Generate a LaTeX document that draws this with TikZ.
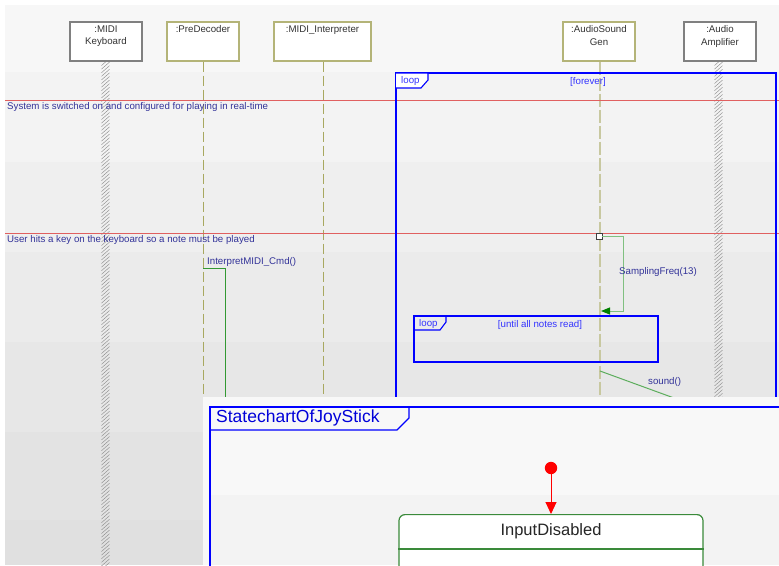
\documentclass[tikz,border=0pt]{standalone}
\usepackage{fontspec}
\setmainfont{Liberation Sans}
\usetikzlibrary{arrows.meta}
\definecolor{hdrbg}{HTML}{F7F7F7}
\definecolor{bandA}{HTML}{F3F3F3}
\definecolor{bandB}{HTML}{EFEFEF}
\definecolor{bandC}{HTML}{EBEBEB}
\definecolor{bandD}{HTML}{E7E7E7}
\definecolor{bandE}{HTML}{E3E3E3}
\definecolor{bandF}{HTML}{E0E0E0}
\definecolor{olive}{HTML}{A8A860}
\definecolor{olivebox}{HTML}{B4B478}
\definecolor{tanline}{HTML}{C8C8A0}
\definecolor{graybox}{HTML}{808080}
\definecolor{hatchgray}{HTML}{8A8A8A}
\definecolor{navytext}{HTML}{333399}
\definecolor{loopblue}{HTML}{0000FF}
\definecolor{looptext}{HTML}{3333FF}
\definecolor{noteline}{HTML}{E06060}
\definecolor{callgreen}{HTML}{339933}
\definecolor{lightgreen}{HTML}{80C080}
\definecolor{darkgreen}{HTML}{008000}
\definecolor{statebord}{HTML}{3A8A3A}
\definecolor{panelA}{HTML}{F8F8F8}
\definecolor{panelB}{HTML}{F3F3F3}
\tikzset{
  objbox/.style={draw, fill=white, line width=1.2pt, minimum width=72, minimum height=39, inner sep=0},
  objtext/.style={anchor=north, align=center, font=\fontsize{9.7}{12.5}\selectfont, text=black!80, inner sep=0},
  lifedash/.style={olive, line width=0.9pt, dash pattern=on 10pt off 4pt},
  genline/.style={tanline, line width=1.8pt, dash pattern=on 13pt off 3pt},
  hatch/.style={hatchgray, line width=0.42pt},
  notesep/.style={noteline, line width=0.8pt},
  notetext/.style={anchor=west, font=\fontsize{9.7}{11}\selectfont, text=navytext, inner sep=0},
  msgtext/.style={anchor=west, font=\fontsize{9.7}{11}\selectfont, text=navytext, inner sep=0},
  frameline/.style={loopblue, line width=1.6pt},
  tabline/.style={loopblue, line width=1.1pt},
  looplabel/.style={font=\fontsize{9.7}{11}\selectfont, text=looptext, inner sep=0},
  callline/.style={callgreen, line width=0.9pt},
  selfmsg/.style={lightgreen, line width=1pt},
  statebox/.style={draw=statebord, fill=white, line width=1.2pt, rounded corners=6pt},
}
% hatched lifeline: x, top, bottom
\newcommand{\hatchlife}[3]{%
  \begin{scope}
    \clip (#1-4.5,#2) rectangle (#1+4.5,#3);
    \foreach \hy in {0,3.6,...,520}{\draw[hatch] (#1-4,#2+\hy+3.5) -- (#1+4,#2+\hy-3.5);}
  \end{scope}}
\begin{document}
\begin{tikzpicture}[x=1pt,y=-1pt]
\useasboundingbox (0,0) rectangle (779,565);
\begin{scope}
\clip (0,0) rectangle (779,565);
% page and shaded background bands
\fill[white] (0,0) rectangle (779,565);
\fill[hdrbg] (5,5) rectangle (779,72);
\fill[bandA] (5,72) rectangle (779,162);
\fill[bandB] (5,162) rectangle (779,252);
\fill[bandC] (5,252) rectangle (779,342);
\fill[bandD] (5,342) rectangle (779,432);
\fill[bandE] (5,432) rectangle (779,520);
\fill[bandF] (5,520) rectangle (779,565);

% lifeline heads
\node[objbox, draw=graybox] (kbd) at (106,41.5) {};
\node[objbox, draw=olivebox] (pre) at (203,41.5) {};
\node[objbox, draw=olivebox, minimum width=97] (interp) at (322.5,41.5) {};
\node[objbox, draw=olivebox] (gen) at (599,41.5) {};
\node[objbox, draw=graybox] (amp) at (720,41.5) {};
\node[objtext] (kbdtxt) at ([yshift=-4]kbd.north) {:MIDI\\Keyboard};
\node[objtext] (pretxt) at ([yshift=-4]pre.north) {:PreDecoder};
\node[objtext] (interptxt) at ([yshift=-4]interp.north) {:MIDI\_Interpreter};
\node[objtext] (gentxt) at ([yshift=-4]gen.north) {:AudioSound\\Gen};
\node[objtext] (amptxt) at ([yshift=-4]amp.north) {:Audio\\Amplifier};

% lifelines
\coordinate (preend) at (203,397);
\coordinate (interpend) at (323,397);
\coordinate (genend) at (600,397);
\draw[lifedash] (pre.south) -- (preend);
\draw[lifedash] (interp.south -| interpend) -- (interpend);
\draw[genline] (gen.south -| genend) -- (genend);
\hatchlife{105.5}{62}{565}
\hatchlife{718.5}{62}{397}

% separator notes
\coordinate (n1w) at (5,100);
\coordinate (n1e) at (779,100);
\coordinate (n2w) at (5,233);
\coordinate (n2e) at (779,233);
\draw[notesep] (n1w) -- (n1e);
\draw[notesep] (n2w) -- (n2e);
\node[notetext] (note1) at (7,107) {System is switched on and configured for playing in real-time};
\node[notetext] (note2) at (7,240) {User hits a key on the keyboard so a note must be played};

% outer loop fragment
\draw[frameline] (396,420) -- (396,73) -- (776,73) -- (776,420);
\draw[tabline, fill=white] (396,73) -- (428,73) -- (428,80) -- (421,88) -- (396,88);
\node[looplabel, anchor=west] (loop1) at (401,81) {loop};
\node[looplabel] (forever) at (588,82) {[forever]};

% InterpretMIDI_Cmd call
\coordinate (c1a) at (203,268);
\coordinate (c1b) at (225,268);
\coordinate (c1c) at (225,400);
\draw[callline] (c1a) -- (c1b) -- (c1c);
\node[msgtext] (callname) at (207,261.5) {InterpretMIDI\_Cmd()};

% self message on the sound generator
\node[draw=black!75, fill=white, line width=0.8pt, minimum size=6, inner sep=0] (act) at (599,236) {};
\coordinate (sfa) at (623,236);
\coordinate (sfb) at (623,311);
\coordinate (sfend) at (601,311);
\draw[selfmsg, -{Triangle[length=9pt,width=7pt,color=darkgreen]}] (act.east) -- (sfa) -- (sfb) -- (sfend);
\node[msgtext] (sfname) at (619,272) {SamplingFreq(13)};

% inner loop fragment
\draw[frameline, fill=none] (414,316) rectangle (658,362);
\draw[tabline] (414,316) -- (446,316) -- (446,322) -- (440,330) -- (414,330);
\node[looplabel, anchor=west] (loop2) at (419,324) {loop};
\node[looplabel] (untiltxt) at (540,325) {[until all notes read]};

% sound() message
\coordinate (sda) at (600,371);
\coordinate (sdb) at (685,402);
\draw[selfmsg, callgreen!80] (sda) -- (sdb);
\node[msgtext] (sdname) at (648,382) {sound()};

% statechart panel on top
\fill[panelA] (203,397) rectangle (779,565);
\fill[panelB] (211,495) rectangle (779,565);
\draw[loopblue, line width=1.3pt] (210,567) -- (210,407) -- (781,407);
\draw[loopblue, line width=1.1pt] (210,407) -- (409,407) -- (409,418) -- (397,430) -- (210,430);
\node[anchor=west, font=\fontsize{17.5}{19}\selectfont, text=loopblue!85!black, inner sep=0] (sctitle) at (216,418) {StatechartOfJoyStick};

% initial pseudo-state and first state
\node[statebox, minimum width=304, minimum height=80, anchor=north] (inputdis) at (551,514) {};
\draw[statebord, line width=1.2pt] (inputdis.west |- 0,549) -- (inputdis.east |- 0,549);
\node[font=\fontsize{16.5}{18}\selectfont, text=black!85, inner sep=0] (idname) at (551,531) {InputDisabled};
\fill[red] (551,468) circle (6.2) coordinate (init);
\draw[red, line width=1pt, -{Triangle[length=12pt,width=11pt]}] (init) -- (inputdis.north);
\end{scope}
\end{tikzpicture}
\end{document}
